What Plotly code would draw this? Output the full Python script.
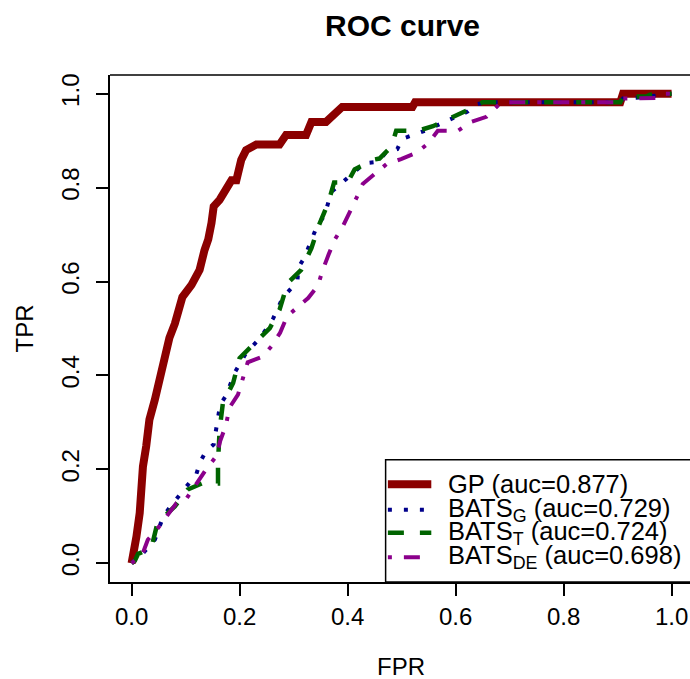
import plotly.graph_objects as go

# ---------------- data ----------------
gp_fpr = [0, 0.004, 0.009, 0.015, 0.018, 0.021, 0.027, 0.033, 0.043, 0.052, 0.06, 0.07, 0.08, 0.094,
          0.111, 0.126, 0.135, 0.142, 0.148, 0.152, 0.163, 0.178, 0.185, 0.194, 0.203, 0.212, 0.231,
          0.274, 0.286, 0.323, 0.333, 0.36, 0.372, 0.39, 0.52, 0.525, 0.905, 0.91, 1.0]
gp_tpr = [0, 0.02, 0.057, 0.107, 0.16, 0.206, 0.249, 0.306, 0.348, 0.39, 0.44, 0.48, 0.51, 0.567,
          0.593, 0.625, 0.667, 0.69, 0.725, 0.76, 0.774, 0.80, 0.816, 0.816, 0.859, 0.88, 0.892,
          0.892, 0.912, 0.912, 0.94, 0.94, 0.954, 0.972, 0.972, 0.982, 0.982, 1.0, 1.0]

batsg_fpr = [0, 0.02, 0.043, 0.058, 0.07, 0.095, 0.107, 0.12, 0.127, 0.137, 0.152, 0.156, 0.16, 0.164,
             0.175, 0.191, 0.212, 0.239, 0.262, 0.28, 0.307, 0.309, 0.32, 0.336, 0.344, 0.357, 0.37,
             0.4, 0.431, 0.457, 0.47, 0.492, 0.501, 0.543, 0.583, 0.622, 0.638, 0.663, 0.905, 0.91,
             0.94, 0.988, 1.0]
batsg_tpr = [0, 0.02, 0.05, 0.098, 0.118, 0.153, 0.173, 0.19, 0.216, 0.237, 0.253, 0.282, 0.309, 0.338,
             0.357, 0.406, 0.448, 0.481, 0.521, 0.566, 0.6, 0.63, 0.651, 0.699, 0.72, 0.74, 0.791,
             0.821, 0.852, 0.855, 0.874, 0.882, 0.904, 0.921, 0.941, 0.962, 0.978, 0.982, 0.982, 0.99,
             0.992, 1.0, 1.0]

batst_fpr = [0, 0.006, 0.012, 0.033, 0.039, 0.048, 0.08, 0.104, 0.13, 0.16, 0.16, 0.163, 0.169, 0.188,
             0.2, 0.228, 0.256, 0.274, 0.289, 0.314, 0.333, 0.347, 0.364, 0.375, 0.40, 0.413, 0.45,
             0.459, 0.481, 0.49, 0.53, 0.558, 0.598, 0.635, 0.65, 0.905, 0.91, 0.953, 0.96, 0.996, 1.0]
batst_tpr = [0, 0.005, 0.02, 0.03, 0.044, 0.086, 0.121, 0.157, 0.17, 0.17, 0.214, 0.284, 0.341, 0.384,
             0.437, 0.469, 0.501, 0.54, 0.597, 0.625, 0.671, 0.72, 0.767, 0.811, 0.811, 0.839, 0.86,
             0.862, 0.887, 0.921, 0.921, 0.931, 0.951, 0.972, 0.982, 0.982, 0.994, 0.994, 0.998, 1.0, 1.0]

batsde_fpr = [0, 0.01, 0.021, 0.03, 0.049, 0.065, 0.083, 0.1, 0.123, 0.138, 0.157, 0.164, 0.175, 0.181,
              0.197, 0.215, 0.242, 0.259, 0.275, 0.288, 0.307, 0.327, 0.345, 0.354, 0.365, 0.376, 0.391,
              0.404, 0.416, 0.428, 0.45, 0.472, 0.499, 0.527, 0.549, 0.567, 0.604, 0.629, 0.657, 0.68,
              0.685, 0.905, 0.91, 0.971, 0.981, 1.0]
batsde_tpr = [0, 0.01, 0.022, 0.05, 0.075, 0.1, 0.128, 0.135, 0.174, 0.2, 0.228, 0.26, 0.295, 0.331,
              0.359, 0.428, 0.44, 0.462, 0.491, 0.526, 0.545, 0.565, 0.591, 0.625, 0.658, 0.689, 0.717,
              0.746, 0.777, 0.808, 0.829, 0.85, 0.861, 0.874, 0.894, 0.921, 0.921, 0.94, 0.951, 0.976,
              0.982, 0.982, 0.99, 0.991, 1.0, 1.0]

tick_vals = [0.0, 0.2, 0.4, 0.6, 0.8, 1.0]
tick_text = ["0.0", "0.2", "0.4", "0.6", "0.8", "1.0"]

legend_labels = ["GP (auc=0.877)", "BATS<sub>G</sub> (auc=0.729)",
                 "BATS<sub>T</sub> (auc=0.724)", "BATS<sub>DE</sub> (auc=0.698)"]

title_text = "ROC curve"
x_title = "FPR"
y_title = "TPR"

# ---------------- styles ----------------
FONT = "Liberation Sans, Arial, Helvetica, sans-serif"
W, H = 690, 679
ML, MR, MT, MB = 110, 0, 75, 96.5
styles = [
    dict(color="#8B0000", width=8, dash="solid"),
    dict(color="#00008B", width=4, dash="4px,12px"),
    dict(color="#006400", width=4.5, dash="16px,16px"),
    dict(color="#8B008B", width=4, dash="4px,12px,16px,12px"),
]
series = [(gp_fpr, gp_tpr), (batsg_fpr, batsg_tpr), (batst_fpr, batst_tpr), (batsde_fpr, batsde_tpr)]

fig = go.Figure()
for (xs, ys), st in zip(series, styles):
    fig.add_trace(go.Scatter(x=xs, y=ys, mode="lines", line=st, showlegend=False, hoverinfo="skip"))

# ---------------- manual legend (R-style, bottom right) ----------------
leg_x0, leg_x1 = 0.4704, 1.2
leg_top = 0.2206
fig.add_shape(type="rect", xref="x", yref="y", x0=leg_x0, x1=leg_x1, y0=-0.04, y1=leg_top,
              fillcolor="white", line=dict(color="black", width=1.5), layer="below")
legend_y = [0.168, 0.114, 0.0647, 0.0128]
for ly, st, lab in zip(legend_y, styles, legend_labels):
    fig.add_trace(go.Scatter(x=[0.4746, 0.555], y=[ly, ly], mode="lines", line=st,
                             showlegend=False, hoverinfo="skip"))
    fig.add_annotation(x=0.583, y=ly, xref="x", yref="y", text=lab, showarrow=False,
                       xanchor="left", yanchor="middle", font=dict(family=FONT, size=25.5, color="black"))

# top border of the box
fig.add_shape(type="line", xref="paper", yref="paper", x0=0, x1=1.02, y0=1, y1=1,
              line=dict(color="black", width=1.5))

pw, ph = W - ML - MR, H - MT - MB


def px_to_paper(px, py):
    return (px - ML) / pw, (H - MB - py) / ph


tx, ty = px_to_paper(402, 25)
fig.add_annotation(x=tx, y=ty, xref="paper", yref="paper", text="<b>" + title_text + "</b>",
                   showarrow=False, xanchor="center", yanchor="middle",
                   font=dict(family=FONT, size=30, color="black"))
fx, fy = px_to_paper(401, 667)
fig.add_annotation(x=fx, y=fy, xref="paper", yref="paper", text=x_title, showarrow=False,
                   xanchor="center", yanchor="middle", font=dict(family=FONT, size=24, color="black"))
yx, yy = px_to_paper(24, 328.7)
fig.add_annotation(x=yx, y=yy, xref="paper", yref="paper", text=y_title, showarrow=False, textangle=-90,
                   xanchor="center", yanchor="middle", font=dict(family=FONT, size=24, color="black"))

fig.update_layout(
    width=W, height=H,
    margin=dict(l=ML, r=MR, t=MT, b=MB, autoexpand=False),
    paper_bgcolor="white", plot_bgcolor="white",
    font=dict(family=FONT, size=24, color="black"),
    xaxis=dict(range=[-0.04, -0.04 + pw / 540], tickvals=tick_vals, ticktext=tick_text,
               ticks="outside", ticklen=12, tickwidth=1.5, tickcolor="black",
               showline=True, linecolor="black", linewidth=1.5, showgrid=False, zeroline=False,
               tickfont=dict(family=FONT, size=24, color="black")),
    yaxis=dict(range=[-0.04, 1.04], tickvals=tick_vals, ticktext=tick_text, tickangle=-90,
               ticks="outside", ticklen=12, tickwidth=1.5, tickcolor="black", ticklabelstandoff=8,
               showline=True, linecolor="black", linewidth=1.5, showgrid=False, zeroline=False,
               tickfont=dict(family=FONT, size=24, color="black")),
    showlegend=False,
)

fig.write_html("out.html", config={"displayModeBar": False},
               post_script="document.body.style.margin='0px';document.body.style.overflow='hidden';")
